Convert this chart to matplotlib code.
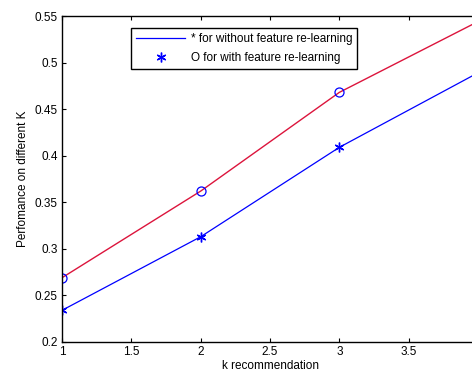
import matplotlib
matplotlib.use('Agg')
import matplotlib.pyplot as plt

plt.rcParams['font.family'] = ['Liberation Sans', 'DejaVu Sans']

k = [1, 2, 3, 4]
with_relearn = [0.269, 0.362, 0.468, 0.544]
without_relearn = [0.234, 0.313, 0.409, 0.489]
xticks = [1, 1.5, 2, 2.5, 3, 3.5]
yticks = [0.2, 0.25, 0.3, 0.35, 0.4, 0.45, 0.5, 0.55]

fig = plt.figure(figsize=(4.72, 3.78), dpi=100)
ax = fig.add_axes([62/472, 36/378, 416/472, 326/378])

ax.plot(k, without_relearn, color='blue', lw=0.9, label='* for without feature re-learning')
ax.plot(k, without_relearn, ls='none', marker=(6, 2, 0), color='blue', ms=7, mew=1.0,
        label='O for with feature re-learning')
ax.plot(k, with_relearn, color='#dc143c', lw=1.0)
ax.plot(k, with_relearn, ls='none', marker='o', mfc='none', mec='blue', ms=6.5, mew=0.9)

ax.set_xlim(1, 4)
ax.set_ylim(0.2, 0.55)
ax.set_xticks(xticks)
ax.set_xticklabels(['1', '1.5', '2', '2.5', '3', '3.5'])
ax.set_yticks(yticks)
ax.set_yticklabels(['0.2', '0.25', '0.3', '0.35', '0.4', '0.45', '0.5', '0.55'])
ax.tick_params(direction='in', top=True, right=True, labelsize=8.5, length=3, pad=3)
for s in ax.spines.values():
    s.set_linewidth(1.0)
ax.set_xlabel('k recommendation', fontsize=8.5, labelpad=1)
ax.set_ylabel('Perfomance on different K', fontsize=8.5, labelpad=4)

leg = ax.legend(loc='upper left', bbox_to_anchor=(0.166, 0.963), borderaxespad=0,
                fontsize=8.5, fancybox=False, framealpha=1, edgecolor='black',
                borderpad=0.4, handlelength=4.2, labelspacing=0.6, handletextpad=0.5)
leg.get_frame().set_linewidth(1.0)

fig.savefig('out.png', dpi=100)
